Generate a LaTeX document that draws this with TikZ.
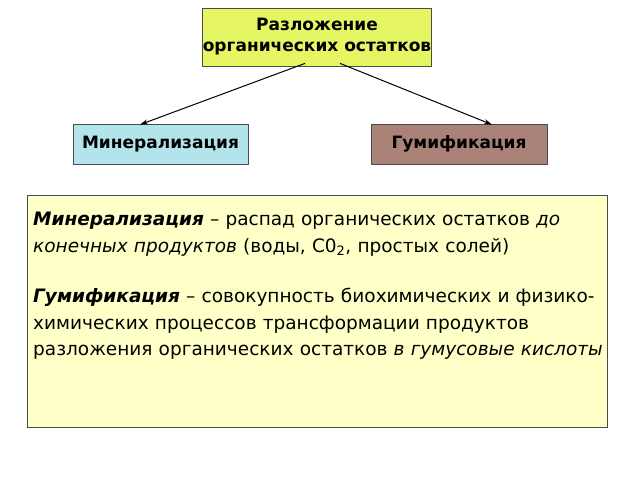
\documentclass[tikz,border=0pt]{standalone}
\usetikzlibrary{arrows.meta}
\usepackage{fontspec}
\setmainfont{DejaVu Sans}
\begin{document}
\begin{tikzpicture}[x=1pt,y=-1pt,
 box/.style={draw=black!70,line width=0.8pt,font=\bfseries\fontsize{17}{21}\selectfont,inner sep=0pt,align=center},
 arr/.style={-{Stealth[length=8pt,width=5pt]},line width=1pt}]
\useasboundingbox (0,0) rectangle (640,480);
\node[box,fill={rgb,255:red,230;green,245;blue,100},minimum width=208pt,minimum height=58pt] (top) at (317,37) {Разложение\\органических остатков};
\node[box,fill={rgb,255:red,180;green,228;blue,235},minimum width=175pt,minimum height=40pt] (min) at (160.5,144) {Минерализация};
\node[box,fill={rgb,255:red,170;green,130;blue,120},minimum width=176pt,minimum height=40pt] (gum) at (459,144) {Гумификация};
\draw[arr] ([xshift=-12pt,yshift=3pt]top.south) -- ([xshift=-20.5pt,yshift=-1pt]min.north);
\draw[arr] ([xshift=23pt,yshift=3pt]top.south) -- ([xshift=33pt,yshift=-1pt]gum.north);
\node[draw=black!70,line width=0.8pt,fill={rgb,255:red,255;green,255;blue,200},minimum width=580pt,minimum height=232pt,inner sep=0pt] (txt) at (317,311) {};
\node[anchor=north west,text width=570pt,align=left,inner sep=0pt,font=\fontsize{18.5}{26.5}\selectfont] (t) at (33,212)
{\textbf{\textit{Минерализация}} – распад органических остатков \textit{до конечных продуктов} (воды, С0\textsubscript{2}, простых солей)\\[24pt]
\textbf{\textit{Гумификация}} – совокупность биохимических и физико-химических процессов трансформации продуктов разложения органических остатков \textit{в гумусовые кислоты}};
\end{tikzpicture}
\end{document}
